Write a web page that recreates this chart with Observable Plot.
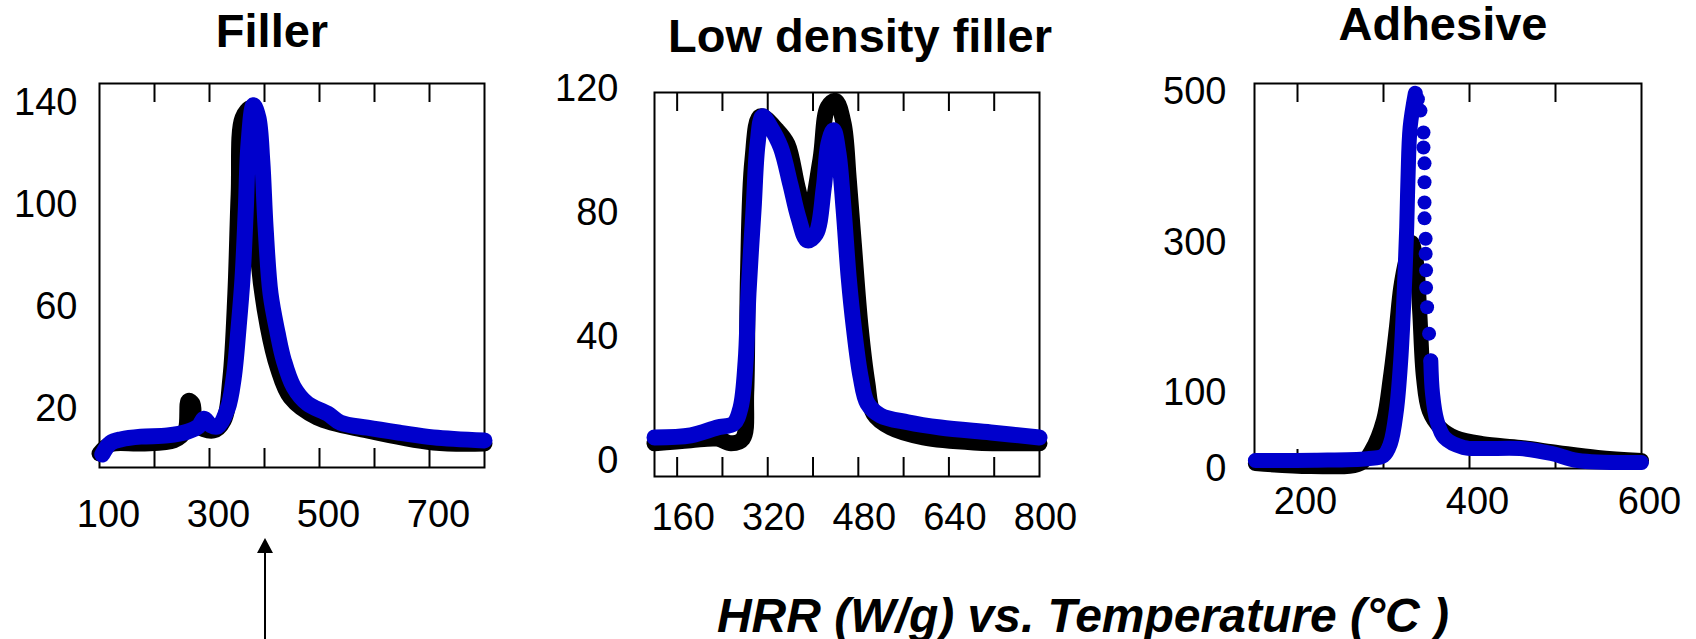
<!DOCTYPE html>
<html>
<head>
<meta charset="utf-8">
<script src="https://cdn.jsdelivr.net/npm/d3@7"></script>
<script src="https://cdn.jsdelivr.net/npm/@observablehq/plot@0.6"></script>
<style>
html, body { margin: 0; padding: 0; background: #fff; }
#wrap { position: relative; width: 1696px; height: 639px; overflow: hidden; font-family: Arial, "Liberation Sans", sans-serif; color: #000; }
.title { position: absolute; font-weight: bold; font-size: 47px; line-height: 1; white-space: nowrap; transform: translateX(-50%); }
.caption { position: absolute; font-weight: bold; font-style: italic; font-size: 48px; line-height: 1; white-space: nowrap; transform: translateX(-50%); }
#wrap svg { position: absolute; top: 0; }
</style>
</head>
<body>
<div id="wrap">
  <div class="title" style="left:272px; top:7px;">Filler</div>
  <div class="title" style="left:860px; top:12px;">Low density filler</div>
  <div class="title" style="left:1443px; top:0px;">Adhesive</div>
  <div class="caption" style="left:1083px; top:592px;">HRR (W/g) vs. Temperature (°C )</div>
</div>
<script>
// ---------- Filler ----------
const fillerBlackT   = [100, 120, 175, 235, 256, 262, 269, 275, 307, 326, 338, 347, 353, 360, 375, 384, 389, 406, 424, 447, 496, 587, 707, 800];
const fillerBlackHRR = [2.4, 6, 6.3, 7.5, 11.4, 23, 22, 14, 11.4, 15.4, 32, 65, 104, 134, 137.7, 104, 78, 52, 36, 24.4, 16.5, 11.4, 6.7, 6.3];
const fillerBlueT    = [105, 120, 140, 175, 224, 260, 280, 290, 302, 315, 333, 344, 353, 360, 366, 371, 380, 389, 396, 402, 411, 424, 435, 453, 478, 515, 538, 587, 647, 707, 800];
const fillerBlueHRR  = [2, 6.5, 8, 9, 9.5, 11, 13, 16, 13.5, 13, 20, 32, 52, 71, 98, 124, 139, 134, 117, 91, 65, 49.5, 39, 28.5, 22, 18, 14.5, 12.5, 10.5, 8.7, 7.5];
const fillerXTicks   = [200, 300, 400, 500, 600, 700];
const fillerXLabels  = [100, 300, 500, 700];
const fillerYLabels  = [20, 60, 100, 140];

// ---------- Low density filler ----------
const lowBlackT   = [120, 184, 231, 255, 276, 282, 285, 293, 307, 337, 355, 373, 390, 413, 426, 440, 454, 463, 472, 484, 496, 507, 537, 595, 684, 800];
const lowBlackHRR = [5.5, 6.5, 7, 5.5, 7, 22, 59, 97, 111, 106.5, 102, 88, 77, 97, 114, 116, 108.7, 91, 70, 43, 25, 15, 10.6, 7.4, 5.8, 5.5];
const lowBlueT    = [120, 184, 231, 260, 272, 281, 286, 295, 302, 311, 325, 343, 360, 374, 390, 405, 419, 427, 436, 445, 454, 463, 472, 484, 496, 519, 567, 625, 714, 800];
const lowBlueHRR  = [7.4, 8.1, 10.6, 11.9, 17, 32, 54, 81, 102, 111, 107.5, 101, 89, 78.5, 71, 73, 88, 102, 106.5, 99, 81, 59, 43, 27, 18.4, 14.5, 12.3, 10.6, 9, 7.4];
const lowXTicks   = [160, 240, 320, 400, 480, 560, 640, 720];
const lowXLabels  = [160, 320, 480, 640, 800];
const lowYLabels  = [0, 40, 80, 120];

// ---------- Adhesive ----------
const adhBlackT   = [151, 215, 273, 286, 300, 308, 315, 320, 326, 332.6, 338, 342, 346.5, 353, 366, 384, 415, 459, 503.5, 549, 600];
const adhBlackHRR = [6.6, 2.7, 6.6, 24, 64, 121, 187, 240, 276, 300, 276, 210, 121, 77, 54, 41, 33, 28, 21, 14.6, 10.6];
const adhBlueRiseT   = [151, 220, 281, 300, 308, 315, 320, 324, 327, 328.5, 331, 337];
const adhBlueRiseHRR = [10.6, 11, 13, 17, 33, 77, 143, 232, 320, 386, 453, 498];
const adhBlueDotsT   = [340, 343, 346.5, 346.5, 347.7, 347.7, 347.7, 347.7, 349, 349, 349.5, 349.5, 350.7, 353, 354.7];
const adhBlueDotsHRR = [490, 475, 446, 426, 405, 380, 353, 332, 305, 285, 263, 240, 214, 179, 143];
const adhBlueTailT   = [355, 357, 362, 371, 393, 415, 459, 495, 526, 600];
const adhBlueTailHRR = [143, 99.5, 64, 41, 28, 26.5, 26.5, 20, 10.6, 8];
const adhXTicks   = [200, 300, 400, 500];
const adhXLabels  = [200, 400, 600];
const adhYLabels  = [0, 100, 300, 500];

const rows = (T, H) => T.map((t, i) => ({t, hrr: H[i]}));
const BLUE = "#0000cc";
const FONT = 'Arial, "Liberation Sans", sans-serif';

function curve(data, color, w) {
  return Plot.line(data, {x: "t", y: "hrr", stroke: color, strokeWidth: w, strokeLinecap: "round", strokeLinejoin: "round", curve: "catmull-rom"});
}

function makePanel(c) {
  const svg = Plot.plot({
    width: c.ml + c.fw + c.mr, height: c.mt + c.fh + c.mb,
    marginLeft: c.ml, marginTop: c.mt, marginRight: c.mr, marginBottom: c.mb,
    x: {domain: c.xDomain}, y: {domain: c.yDomain},
    style: {fontFamily: FONT, background: "transparent", overflow: "visible", color: "#000"},
    marks: [
      Plot.frame({stroke: "#000", strokeWidth: 2}),
      Plot.ruleX(c.xTicks, {x: d => d, insetTop: c.fh - 19, stroke: "#000", strokeWidth: 2}),
      Plot.ruleX(c.xTicks, {x: d => d, insetBottom: c.fh - 19, stroke: "#000", strokeWidth: 2}),
      Plot.axisX({ticks: c.xLabels, label: null, tickSize: 0, tickPadding: c.xPad, dx: c.xdx, fontSize: 38, tickFormat: d => String(d)}),
      Plot.axisY({ticks: c.yLabels, label: null, tickSize: 0, tickPadding: c.yPad, fontSize: 38, tickFormat: d => String(d)}),
      ...c.marks
    ]
  });
  svg.style.left = c.left + "px";
  document.getElementById("wrap").appendChild(svg);
}

makePanel({
  left: 0, ml: 99, fw: 385, mr: 40, mt: 83, fh: 384, mb: 80,
  xDomain: [100, 800], yDomain: [-3.1, 147.5],
  xTicks: fillerXTicks, xLabels: fillerXLabels, yLabels: fillerYLabels,
  xPad: 33, xdx: 9, yPad: 22,
  marks: [curve(rows(fillerBlackT, fillerBlackHRR), "#000", 16), curve(rows(fillerBlueT, fillerBlueHRR), BLUE, 16)]
});

makePanel({
  left: 540, ml: 114, fw: 385, mr: 50, mt: 92, fh: 384, mb: 80,
  xDomain: [120, 800], yDomain: [-5.2, 118.7],
  xTicks: lowXTicks, xLabels: lowXLabels, yLabels: lowYLabels,
  xPad: 27, xdx: 6, yPad: 36,
  marks: [curve(rows(lowBlackT, lowBlackHRR), "#000", 16), curve(rows(lowBlueT, lowBlueHRR), BLUE, 16)]
});

makePanel({
  left: 1140, ml: 114, fw: 387, mr: 55, mt: 83, fh: 385, mb: 80,
  xDomain: [150, 600], yDomain: [0, 511],
  xTicks: adhXTicks, xLabels: adhXLabels, yLabels: adhYLabels,
  xPad: 19, xdx: 8, yPad: 28,
  marks: [
    curve(rows(adhBlackT, adhBlackHRR), "#000", 15),
    curve(rows(adhBlueRiseT, adhBlueRiseHRR), BLUE, 15),
    curve(rows(adhBlueTailT, adhBlueTailHRR), BLUE, 15),
    Plot.dot(rows(adhBlueDotsT, adhBlueDotsHRR), {x: "t", y: "hrr", r: 7, fill: BLUE, stroke: "none"})
  ]
});

// arrow annotation under the Filler panel
const ns = "http://www.w3.org/2000/svg";
const a = document.createElementNS(ns, "svg");
a.setAttribute("width", 40); a.setAttribute("height", 120);
a.style.left = "245px"; a.style.top = "530px";
a.innerHTML = '<line x1="20" y1="21" x2="20" y2="110" stroke="#000" stroke-width="2"/><polygon points="20,8 12,23 28,23" fill="#000"/>';
document.getElementById("wrap").appendChild(a);
</script>
</body>
</html>
